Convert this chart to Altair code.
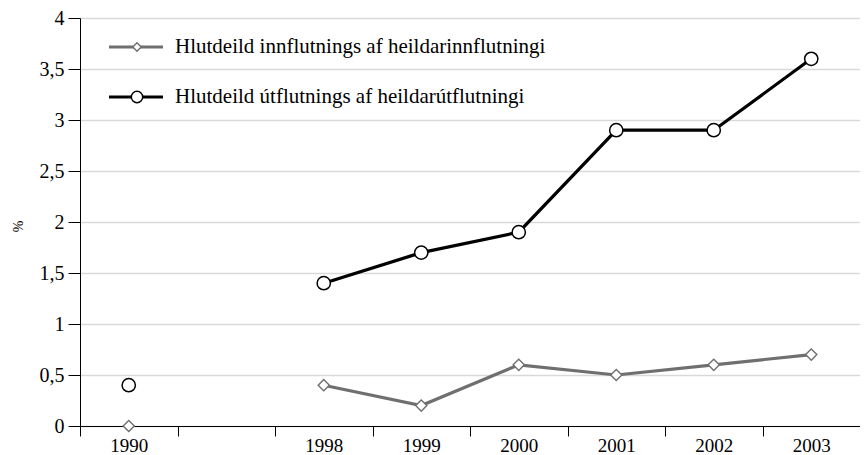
import altair as alt
import pandas as pd

# ---- data ----
categories = ["1990", " ", "1998", "1999", "2000", "2001", "2002", "2003"]
data_years = ["1990", "1998", "1999", "2000", "2001", "2002", "2003"]
imports_share = [0.0, 0.4, 0.2, 0.6, 0.5, 0.6, 0.7]
exports_share = [0.4, 1.4, 1.7, 1.9, 2.9, 2.9, 3.6]
label_imp = "Hlutdeild innflutnings af heildarinnflutningi"
label_exp = "Hlutdeild útflutnings af heildarútflutningi"
y_ticks = [0, 0.5, 1, 1.5, 2, 2.5, 3, 3.5, 4]

df_imp = pd.DataFrame({"year": data_years, "value": imports_share})
df_exp = pd.DataFrame({"year": data_years, "value": exports_share})

GRAY = "#6f6f6f"
FONT = "Liberation Serif"
W, H = 780, 408
TOP = 10

x_enc = alt.X(
    "year:N",
    scale=alt.Scale(type="band", domain=categories, paddingInner=0, paddingOuter=0),
    axis=alt.Axis(
        title=None, tickBand="extent", tickSize=10,
        tickColor="black", domainColor="black", labelAngle=0,
        labelFontSize=19, labelPadding=0, labelColor="black", grid=False,
    ),
)
y_enc = alt.Y(
    "value:Q",
    scale=alt.Scale(domain=[0, 4], nice=False, zero=True),
    axis=alt.Axis(
        title="%", values=y_ticks, tickSize=12, tickColor="black",
        domainColor="black", labelFontSize=20, labelPadding=4, labelColor="black",
        labelExpr="replace(format(datum.value, '~g'), '.', ',')",
        grid=True, gridColor="#d9d9d9", gridWidth=1.3,
        titleFontSize=14, titleFontWeight="normal", titleColor="black",
        titleX=-62, titleY=H / 2 + 4, titleBaseline="middle",
    ),
)

not1990 = alt.datum.year != "1990"

imp_line = alt.Chart(df_imp).mark_line(color=GRAY, strokeWidth=3.2).encode(
    x=x_enc, y=y_enc).transform_filter(not1990)
exp_line = alt.Chart(df_exp).mark_line(color="black", strokeWidth=3.2).encode(
    x=x_enc, y=y_enc).transform_filter(not1990)
imp_pts = alt.Chart(df_imp).mark_point(
    shape="diamond", filled=True, fill="white", stroke=GRAY, strokeWidth=1.4,
    size=125, opacity=1).encode(x=x_enc, y=y_enc)
exp_pts = alt.Chart(df_exp).mark_point(
    shape="circle", filled=True, fill="white", stroke="black", strokeWidth=1.5,
    size=175, opacity=1).encode(x=x_enc, y=y_enc)

# ---- manual legend ----
leg_imp = pd.DataFrame({"label": [label_imp]})
leg_exp = pd.DataFrame({"label": [label_exp]})
ly1, ly2 = 47 - 8 - TOP, 97 - 8 - TOP
leg = [
    alt.Chart(leg_imp).mark_rule(color=GRAY, strokeWidth=3.2).encode(
        x=alt.value(29), x2=alt.value(83), y=alt.value(ly1)),
    alt.Chart(leg_imp).mark_point(shape="diamond", filled=True, fill="white",
        stroke=GRAY, strokeWidth=1.4, size=70, opacity=1).encode(
        x=alt.value(57), y=alt.value(ly1)),
    alt.Chart(leg_imp).mark_text(align="left", baseline="middle", fontSize=21,
        font=FONT, color="black").encode(
        x=alt.value(95), y=alt.value(ly1), text="label:N"),
    alt.Chart(leg_exp).mark_rule(color="black", strokeWidth=3.2).encode(
        x=alt.value(29), x2=alt.value(83), y=alt.value(ly2)),
    alt.Chart(leg_exp).mark_point(shape="circle", filled=True, fill="white",
        stroke="black", strokeWidth=1.5, size=130, opacity=1).encode(
        x=alt.value(57), y=alt.value(ly2)),
    alt.Chart(leg_exp).mark_text(align="left", baseline="middle", fontSize=21,
        font=FONT, color="black").encode(
        x=alt.value(95), y=alt.value(ly2), text="label:N"),
]

chart = alt.layer(imp_line, exp_line, imp_pts, exp_pts, *leg).properties(
    width=W, height=H,
    autosize=alt.AutoSizeParams(type="none"),
    padding={"left": 72, "top": TOP, "right": 0, "bottom": 29},
    background="white",
).configure_view(stroke=None).configure(font=FONT)

chart.save("out.html", embed_options={"renderer": "svg", "actions": False})
